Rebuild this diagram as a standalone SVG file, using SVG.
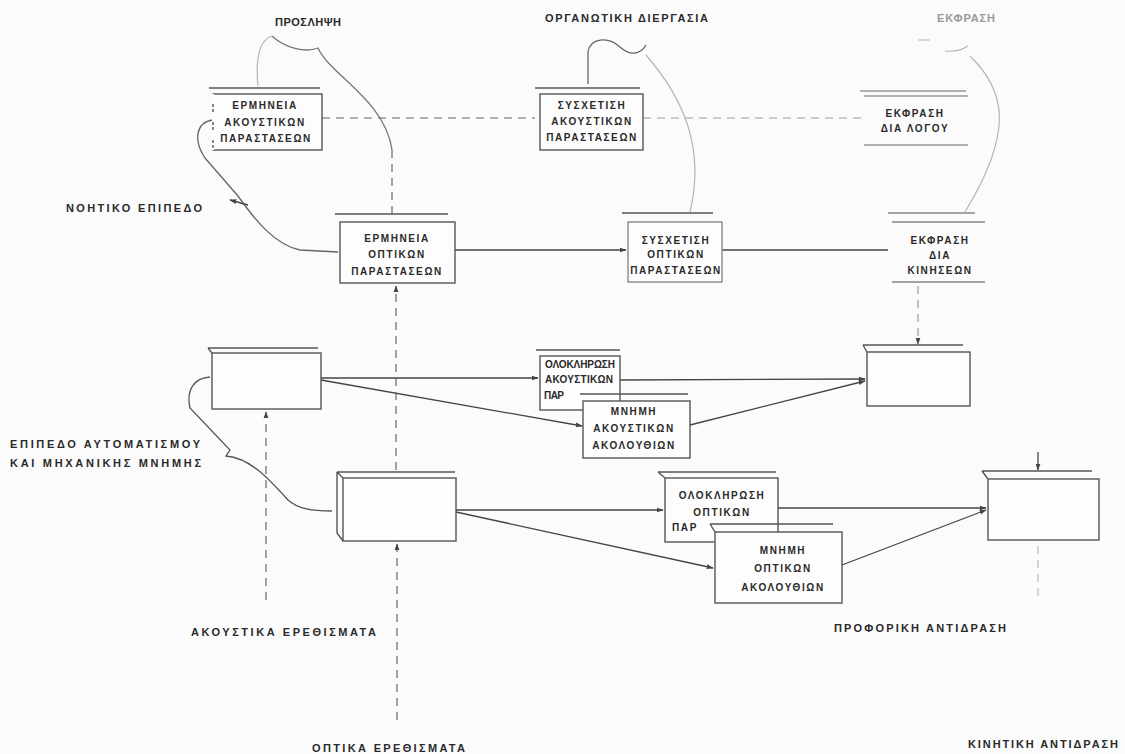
<svg xmlns="http://www.w3.org/2000/svg" width="1125" height="754" viewBox="0 0 1125 754">
<defs>
<marker id="ah" viewBox="0 0 10 10" refX="9" refY="5" markerWidth="7" markerHeight="7" orient="auto-start-reverse" markerUnits="userSpaceOnUse">
<path d="M0,1.5 L10,5 L0,8.5 Z" fill="#444"/>
</marker>
<style>
.bx{fill:#fdfdfd;stroke:#555;stroke-width:1.4}
.bxl{fill:none;stroke:#555;stroke-width:1.4}
.bxd{fill:none;stroke:#666;stroke-width:1.2;stroke-dasharray:10 3 2 3}
.t{font-family:"Liberation Sans","DejaVu Sans",sans-serif;font-weight:bold;font-size:10px;fill:#2a2a2a;letter-spacing:1.6px;text-anchor:middle}
.ts{font-family:"Liberation Sans","DejaVu Sans",sans-serif;font-weight:bold;font-size:10px;fill:#2a2a2a}
.tl{font-family:"Liberation Sans","DejaVu Sans",sans-serif;font-weight:bold;font-size:11px;fill:#2a2a2a;letter-spacing:2px}
.faint{fill:#999}
.c{fill:none;stroke:#444;stroke-width:1.3}
.cd{fill:none;stroke:#666;stroke-width:1.2;stroke-dasharray:8 6}
.cf{fill:none;stroke:#b5b5b5;stroke-width:1.2}
</style>
</defs>
<rect width="1125" height="754" fill="#fbfbfb"/>

<g id="connectors">
<path class="cd" d="M322,118 H535"/>
<path class="cd" d="M643,118 H862" style="stroke:#999"/>
<path class="c" d="M455,250 H626" marker-end="url(#ah)"/>
<path class="c" d="M722,250 H888"/>
<path class="c" d="M321,378 L538,378" marker-end="url(#ah)"/>
<path class="c" d="M321,380 L582,426" marker-end="url(#ah)"/>
<path class="c" d="M620,380 L865,379" marker-end="url(#ah)"/>
<path class="c" d="M690,425 L865,381" marker-end="url(#ah)"/>
<path class="c" d="M456,510 L663,510" marker-end="url(#ah)"/>
<path class="c" d="M456,512 L713,568" marker-end="url(#ah)"/>
<path class="c" d="M778,508 L986,508" marker-end="url(#ah)"/>
<path class="c" d="M842,565 L986,510" marker-end="url(#ah)"/>
<path class="cd" d="M266,600 V412" marker-end="url(#ah)"/>
<path class="cd" d="M397,720 V544" marker-end="url(#ah)"/>
<path class="cd" d="M396,470 V286" marker-end="url(#ah)"/>
<path class="cd" d="M392,150 V213"/>
<path class="cd" d="M918,286 V344" marker-end="url(#ah)" style="stroke:#999"/>
<path class="c" d="M1038,452 V470" marker-end="url(#ah)"/>
<path class="cd" d="M1038,546 V600" style="stroke:#bbb"/>
<path class="cf" d="M258,86 C255,55 260,40 272,36"/>
<path class="c" d="M272,36 C285,48 305,53 318,48 C330,75 385,100 392,150" style="stroke:#777"/>
<path class="c" d="M588,84 L588,52 C590,38 608,36 620,47 C630,56 640,55 646,45" style="stroke:#666"/>
<path class="cf" d="M646,55 C685,100 705,150 690,212"/>
<path class="cf" d="M918,40 H930 M945,51 C955,52 962,50 968,46"/>
<path class="cf" d="M970,56 C1005,90 1015,130 965,212"/>
<path class="c" d="M213,120 C196,122 193,140 205,158 L238,196 C255,220 275,245 300,250 L338,252" style="stroke:#666"/>
<path class="c" d="M248,205 L230,200" marker-end="url(#ah)"/>
<path class="c" d="M210,377 C194,378 186,390 190,408 L230,450 L226,456 C250,458 268,478 288,500 C298,509 312,511 332,511" style="stroke:#555"/>
</g>

<g id="box-a1">
<path class="bxl" d="M209,88 H320"/>
<rect class="bx" x="213" y="94" width="109" height="56"/>
<path class="bxd" d="M213,94 V150" style="stroke:#fdfdfd;stroke-width:2"/>
<text class="t" x="265" y="109">ΕΡΜΗΝΕΙΑ</text>
<text class="t" x="265" y="126">ΑΚΟΥΣΤΙΚΩΝ</text>
<text class="t" x="266" y="142">ΠΑΡΑΣΤΑΣΕΩΝ</text>
</g>
<g id="box-a2">
<path class="bxl" d="M535,88 H640"/>
<rect class="bx" x="540" y="94" width="103" height="56"/>
<text class="t" x="592" y="109">ΣΥΣΧΕΤΙΣΗ</text>
<text class="t" x="592" y="125">ΑΚΟΥΣΤΙΚΩΝ</text>
<text class="t" x="592" y="141">ΠΑΡΑΣΤΑΣΕΩΝ</text>
</g>
<g id="box-a3">
<path class="bxl" d="M860,91 H966 M864,96 H968 M864,145 H968" style="stroke:#999"/>
<text class="t" x="915" y="117">ΕΚΦΡΑΣΗ</text>
<text class="t" x="915" y="132">ΔΙΑ ΛΟΓΟΥ</text>
</g>

<g id="box-b1">
<path class="bxl" d="M335,214 H448"/>
<rect class="bx" x="340" y="222" width="115" height="61"/>
<text class="t" x="397" y="242">ΕΡΜΗΝΕΙΑ</text>
<text class="t" x="397" y="258">ΟΠΤΙΚΩΝ</text>
<text class="t" x="397" y="275">ΠΑΡΑΣΤΑΣΕΩΝ</text>
</g>
<g id="box-b2">
<path class="bxl" d="M622,213 H713"/>
<rect class="bx" x="628" y="222" width="94" height="60" style="stroke:#888"/>
<text class="t" x="676" y="244">ΣΥΣΧΕΤΙΣΗ</text>
<text class="t" x="676" y="258">ΟΠΤΙΚΩΝ</text>
<text class="t" x="676" y="274">ΠΑΡΑΣΤΑΣΕΩΝ</text>
</g>
<g id="box-b3">
<path class="bxl" d="M888,213 H975 M892,222 H985 M892,282 H985" style="stroke:#888"/>
<text class="t" x="940" y="244">ΕΚΦΡΑΣΗ</text>
<text class="t" x="940" y="259">ΔΙΑ</text>
<text class="t" x="940" y="274">ΚΙΝΗΣΕΩΝ</text>
</g>

<g id="box-c1">
<path class="bxl" d="M208,348 H318 M208,348 L212,353"/>
<rect class="bx" x="212" y="353" width="109" height="56"/>
</g>
<g id="box-c2">
<path class="bxl" d="M536,350 H620"/>
<rect class="bx" x="540" y="356" width="80" height="54"/>
<text class="ts" x="545" y="368" textLength="70">ΟΛΟΚΛΗΡΩΣΗ</text>
<text class="ts" x="545" y="383" textLength="68">ΑΚΟΥΣΤΙΚΩΝ</text>
<text class="ts" x="544" y="399" textLength="20">ΠΑΡ</text>
</g>
<g id="box-c3">
<path class="bxl" d="M580,394 H688"/>
<rect class="bx" x="583" y="401" width="107" height="57"/>
<text class="t" x="634" y="415">ΜΝΗΜΗ</text>
<text class="t" x="634" y="432">ΑΚΟΥΣΤΙΚΩΝ</text>
<text class="t" x="634" y="449">ΑΚΟΛΟΥΘΙΩΝ</text>
</g>
<g id="box-c4">
<path class="bxl" d="M863,345 H963 M863,345 L867,352"/>
<rect class="bx" x="867" y="352" width="103" height="54"/>
</g>

<g id="box-d1">
<path class="bxl" d="M337,472 H455 M337,472 L343,478 M337,472 V533 L343,541"/>
<rect class="bx" x="343" y="478" width="113" height="63"/>
</g>
<g id="box-d2">
<path class="bxl" d="M658,472 H776 M658,472 L665,478"/>
<rect class="bx" x="665" y="478" width="113" height="64"/>
<text class="t" x="722" y="499">ΟΛΟΚΛΗΡΩΣΗ</text>
<text class="t" x="722" y="516">ΟΠΤΙΚΩΝ</text>
<text class="t" x="672" y="531" style="text-anchor:start">ΠΑΡ</text>
</g>
<g id="box-d3">
<path class="bxl" d="M710,524 H833 M710,524 L715,532"/>
<rect class="bx" x="715" y="532" width="127" height="71"/>
<text class="t" x="783" y="554">ΜΝΗΜΗ</text>
<text class="t" x="783" y="572">ΟΠΤΙΚΩΝ</text>
<text class="t" x="783" y="591">ΑΚΟΛΟΥΘΙΩΝ</text>
</g>
<g id="box-d4">
<path class="bxl" d="M982,471 H1092 M982,471 L988,479"/>
<rect class="bx" x="988" y="479" width="111" height="61"/>
</g>

<g id="labels">
<text class="tl" x="275" y="26" textLength="68">ΠΡΟΣΛΗΨΗ</text>
<text class="tl" x="545" y="22" textLength="165">ΟΡΓΑΝΩΤΙΚΗ ΔΙΕΡΓΑΣΙΑ</text>
<text class="tl faint" x="937" y="22" textLength="60">ΕΚΦΡΑΣΗ</text>
<text class="tl" x="66" y="212" textLength="138">ΝΟΗΤΙΚΟ ΕΠΙΠΕΔΟ</text>
<text class="tl" x="10" y="448" textLength="192">ΕΠΙΠΕΔΟ ΑΥΤΟΜΑΤΙΣΜΟΥ</text>
<text class="tl" x="10" y="467" textLength="193">ΚΑΙ ΜΗΧΑΝΙΚΗΣ ΜΝΗΜΗΣ</text>
<text class="tl" x="191" y="636" textLength="187">ΑΚΟΥΣΤΙΚΑ ΕΡΕΘΙΣΜΑΤΑ</text>
<text class="tl" x="312" y="752" textLength="155">ΟΠΤΙΚΑ ΕΡΕΘΙΣΜΑΤΑ</text>
<text class="tl" x="834" y="632" textLength="174">ΠΡΟΦΟΡΙΚΗ ΑΝΤΙΔΡΑΣΗ</text>
<text class="tl" x="968" y="748" textLength="152">ΚΙΝΗΤΙΚΗ ΑΝΤΙΔΡΑΣΗ</text>
</g>
</svg>
